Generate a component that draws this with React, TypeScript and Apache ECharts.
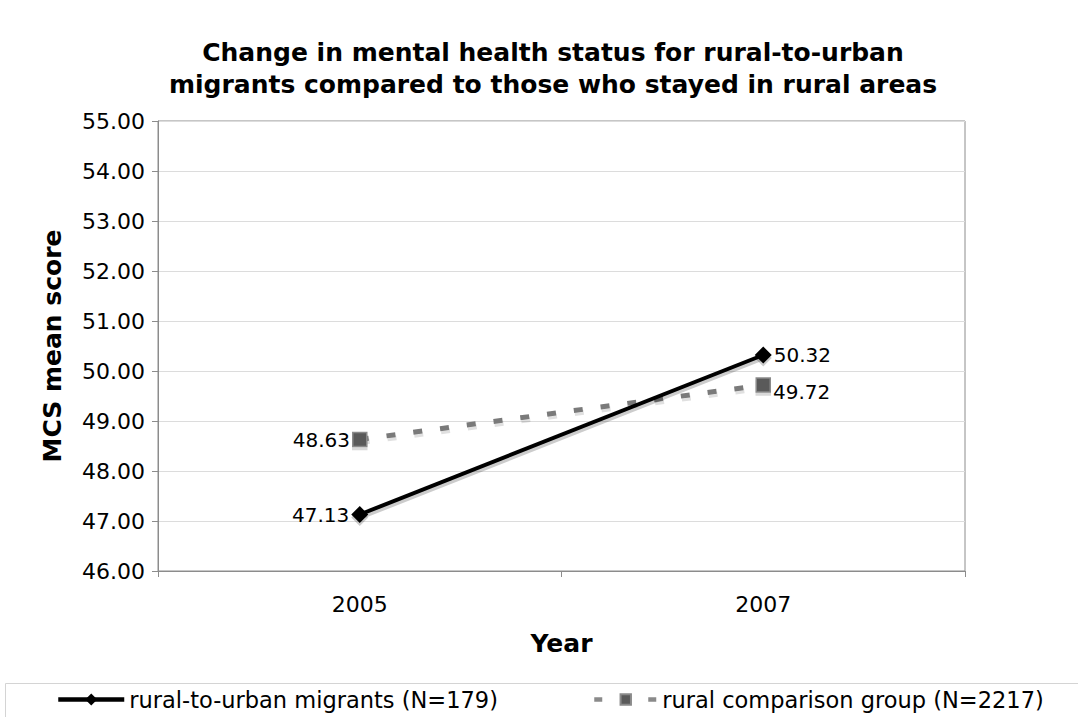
import React, { useEffect, useRef } from "react";
import * as echarts from "echarts";

const years = ["2005", "2007"];
const migrants = [47.13, 50.32];
const rural = [48.63, 49.72];
const yTicks = { min: 46, max: 55, interval: 1 };

const FONT = "DejaVu Sans, Verdana, sans-serif";
const RURAL_DASH = [8, 19];

const fmt = (p: any) => Number(p.value).toFixed(2);

export default function App() {
  const ref = useRef<HTMLDivElement>(null);

  useEffect(() => {
    const chart = echarts.init(ref.current!, null, { renderer: "svg" });
    chart.setOption({
      animation: false,
      backgroundColor: "#ffffff",
      textStyle: { fontFamily: FONT, color: "#000" },
      title: {
        text: "Change in mental health status for rural-to-urban\nmigrants compared to those who stayed in rural areas",
        left: 548,
        top: 31,
        textAlign: "center",
        textStyle: {
          fontFamily: FONT,
          fontSize: 25,
          fontWeight: "bold",
          lineHeight: 32,
          color: "#000",
        },
      },
      grid: { left: 158, right: 113, top: 121, bottom: 146, show: true, borderColor: "#8c8c8c", borderWidth: 1, backgroundColor: "transparent" },
      legend: [
        {
          data: ["rural-to-urban migrants (N=179)"],
          left: 51,
          top: 683,
          itemWidth: 66,
          itemHeight: 15,
          lineStyle: { width: 4.5, color: "#000" },
          textStyle: { fontFamily: FONT, fontSize: 22.5, color: "#000" },
        },
        {
          data: ["rural comparison group (N=2217)"],
          left: 587,
          top: 683,
          itemWidth: 63,
          itemHeight: 13,
          lineStyle: { width: 4.5, color: "#8a8a8a", type: RURAL_DASH },
          textStyle: { fontFamily: FONT, fontSize: 22.5, color: "#000" },
        },
      ],
      xAxis: {
        type: "category",
        data: years,
        boundaryGap: true,
        name: "Year",
        nameLocation: "middle",
        nameGap: 60,
        nameTextStyle: { fontFamily: FONT, fontSize: 25, fontWeight: "bold", color: "#000" },
        axisLine: { lineStyle: { color: "#8c8c8c", width: 1 } },
        axisTick: { show: true, length: 6, lineStyle: { color: "#8c8c8c" } },
        axisLabel: { fontFamily: FONT, fontSize: 22, color: "#000", margin: 22 },
      },
      yAxis: {
        type: "value",
        min: yTicks.min,
        max: yTicks.max,
        interval: yTicks.interval,
        name: "MCS mean score",
        nameLocation: "middle",
        nameRotate: 90,
        nameGap: 93,
        nameTextStyle: { fontFamily: FONT, fontSize: 25, fontWeight: "bold", color: "#000" },
        axisLine: { show: true, lineStyle: { color: "#8c8c8c", width: 1 } },
        axisTick: { show: true, length: 6, lineStyle: { color: "#8c8c8c" } },
        axisLabel: {
          fontFamily: FONT,
          fontSize: 22,
          color: "#000",
          margin: 13,
          formatter: (v: number) => v.toFixed(2),
        },
        splitLine: { show: true, lineStyle: { color: "#dcdcdc", width: 1 } },
      },
      series: [
        {
          name: "rural comparison group (N=2217)",
          type: "line",
          data: rural.map((v, i) =>
            i === 1
              ? { value: v, label: { position: "right", offset: [0, 7] } }
              : { value: v }
          ),
          symbol: "rect",
          symbolSize: 14,
          z: 2,
          lineStyle: {
            color: "#7a7a7a",
            width: 5,
            type: [9, 18],
            shadowColor: "rgba(0,0,0,0.12)",
            shadowOffsetY: 3,
            shadowOffsetX: 1,
          },
          itemStyle: {
            color: "#5a5a5a",
            borderColor: "#8a8a8a",
            borderWidth: 1.5,
            shadowColor: "rgba(0,0,0,0.15)",
            shadowOffsetY: 3,
          },
          label: {
            show: true,
            fontFamily: FONT,
            fontSize: 20,
            color: "#000",
            formatter: fmt,
            position: "left",
            distance: 2,
          },
        },
        {
          name: "rural-to-urban migrants (N=179)",
          type: "line",
          data: migrants.map((v, i) =>
            i === 1 ? { value: v, label: { position: "right" } } : { value: v }
          ),
          symbol: "diamond",
          symbolSize: 17,
          z: 3,
          lineStyle: {
            color: "#000000",
            width: 4,
            shadowColor: "rgba(0,0,0,0.2)",
            shadowOffsetY: 3,
            shadowOffsetX: 1,
          },
          itemStyle: {
            color: "#000000",
            shadowColor: "rgba(0,0,0,0.2)",
            shadowOffsetY: 3,
          },
          label: {
            show: true,
            fontFamily: FONT,
            fontSize: 20,
            color: "#000",
            formatter: fmt,
            position: "left",
            distance: 2,
          },
        },
      ],
      graphic: [
        {
          type: "rect",
          shape: { x: 5.5, y: 683.5, width: 1200, height: 80 },
          style: { fill: "none", stroke: "#d4d4d4", lineWidth: 1 },
          silent: true,
          z: -1,
        },
      ],
    });
    return () => chart.dispose();
  }, []);

  return (
    <div
      ref={ref}
      style={{ position: "fixed", left: 0, top: 0, width: 1078, height: 717 }}
    />
  );
}
